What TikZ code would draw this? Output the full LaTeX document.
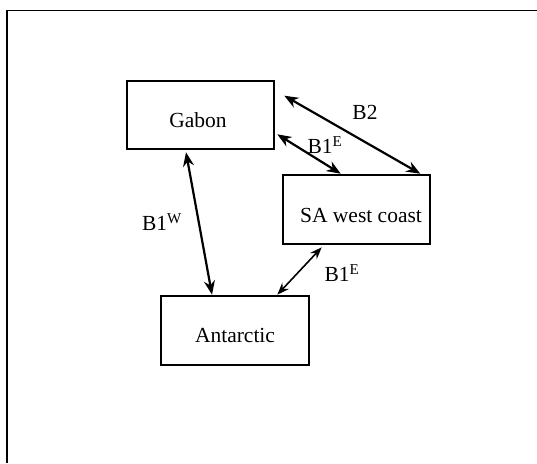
\documentclass[tikz,border=0pt]{standalone}
\usepackage{fontspec}
\setmainfont{Liberation Serif}
\usetikzlibrary{arrows.meta}
\begin{document}
\begin{tikzpicture}[x=1pt,y=-1pt,
  region/.style={draw,line width=2.6pt,minimum width=147pt,minimum height=68pt,inner sep=0pt},
  lbl/.style={font=\fontsize{21.5}{25}\selectfont,inner sep=0pt},
  link/.style={line width=2.2pt,{Stealth[length=14pt,width=11pt]}-{Stealth[length=14pt,width=11pt]}},
  thinlink/.style={line width=1.6pt,{Stealth[length=12pt,width=9pt]}-{Stealth[length=12pt,width=9pt]}}]
\useasboundingbox (0,0) rectangle (537,463);
\draw[line width=1.6pt] (7,463) -- (7,10.5) -- (537,10.5);
\node[region] (gabon) at (200.5,115) {};
\node[region,minimum height=69pt] (sa) at (356.5,209.5) {};
\node[region,minimum width=148pt,minimum height=69pt] (ant) at (235,330.5) {};
\node[lbl] (gabont) at (198,120) {Gabon};
\node[lbl] (sat) at (361,215) {SA west coast};
\node[lbl] (antt) at (235,335) {Antarctic};
\draw[link] ([xshift=9pt,yshift=-16pt]gabon.north east) -- ([xshift=-11pt]sa.north east);
\draw[link] ([xshift=2pt,yshift=16pt]gabon.south east) -- ([xshift=59pt]sa.north west);
\draw[link] ([xshift=-14.5pt,yshift=-2pt]gabon.south) -- ([xshift=-23pt]ant.north);
\draw[thinlink] ([xshift=40pt,yshift=-2pt]sa.south west) -- ([xshift=-33pt]ant.north east);
\node[lbl] (b2) at (365,112) {B2};
\node[lbl] (b1e1) at (325,145) {B1\textsuperscript{E}};
\node[lbl] (b1w) at (162,222) {B1\textsuperscript{W}};
\node[lbl] (b1e2) at (342,273) {B1\textsuperscript{E}};
\end{tikzpicture}
\end{document}
